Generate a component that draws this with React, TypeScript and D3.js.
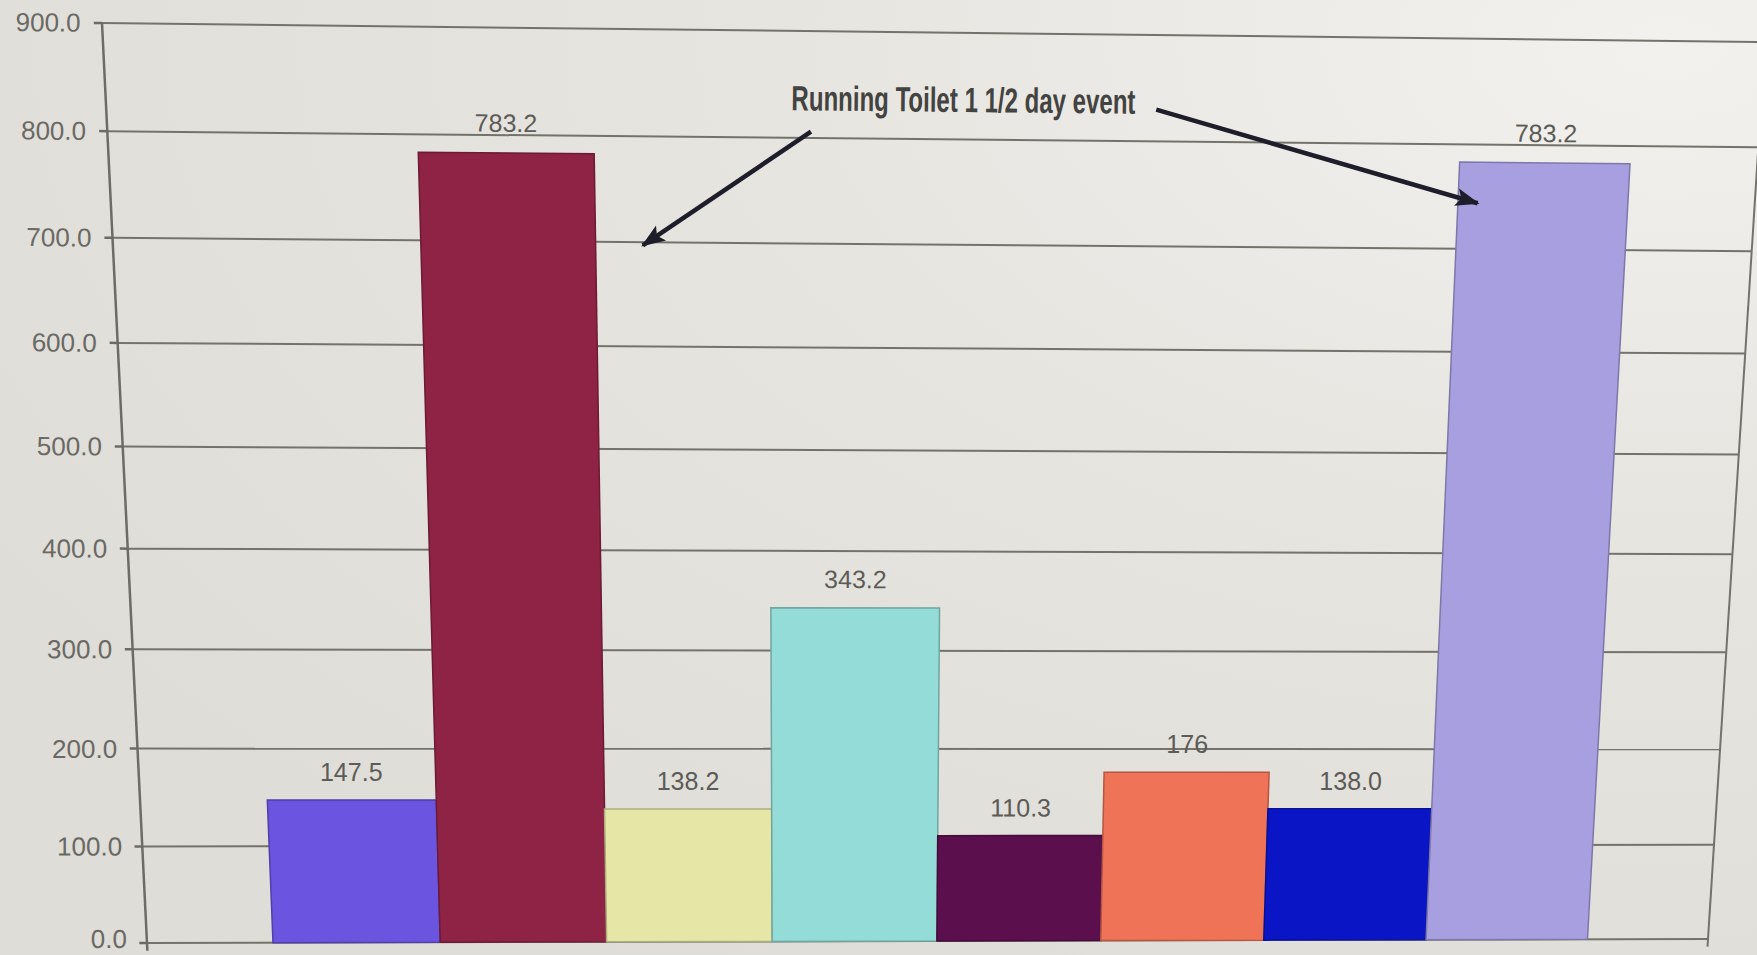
import React from "react";
import * as d3 from "d3";

// Water use per period (gallons/day); one category with eight series
const seriesIds = ["p1", "p2", "p3", "p4", "p5", "p6", "p7", "p8"];
const seriesValues = [147.5, 783.2, 138.2, 343.2, 110.3, 176, 138.0, 783.2];
const seriesLabels = ["147.5", "783.2", "138.2", "343.2", "110.3", "176", "138.0", "783.2"];
const seriesColors = [
  "#6b54e0",
  "#8f2346",
  "#e6e6a6",
  "#93dcd7",
  "#5b0f4d",
  "#ef7357",
  "#0a16c6",
  "#a89fe0",
];
const yTicks = [0, 100, 200, 300, 400, 500, 600, 700, 800, 900];
const annotationText = "Running Toilet 1 1/2 day event";

const W = 1757;
const H = 955;

type Pt = [number, number];

// Plot-area corners on the page: bottom-left, bottom-right, top-right, top-left
const plotCorners: Pt[] = [
  [147, 943],
  [1708, 939],
  [1765, 42],
  [102, 23],
];

// Projective map from the unit square (u across, v up) onto a quadrilateral
function squareToQuad(q: Pt[]) {
  const [[x0, y0], [x1, y1], [x2, y2], [x3, y3]] = q;
  const dx1 = x1 - x2, dx2 = x3 - x2, dx3 = x0 - x1 + x2 - x3;
  const dy1 = y1 - y2, dy2 = y3 - y2, dy3 = y0 - y1 + y2 - y3;
  const det = dx1 * dy2 - dx2 * dy1;
  const g = (dx3 * dy2 - dx2 * dy3) / det;
  const h = (dx1 * dy3 - dx3 * dy1) / det;
  const a = x1 - x0 + g * x1, b = x3 - x0 + h * x3, c = x0;
  const d = y1 - y0 + g * y1, e = y3 - y0 + h * y3, f = y0;
  return (u: number, v: number): Pt => {
    const w = g * u + h * v + 1;
    return [(a * u + b * v + c) / w, (d * u + e * v + f) / w];
  };
}

const project = squareToQuad(plotCorners);

const x = d3
  .scaleBand<string>()
  .domain(seriesIds)
  .range([0, 1])
  .paddingInner(0)
  .paddingOuter(0.75);
const y = d3.scaleLinear().domain([0, 900]).range([0, 1]);
const fmt = d3.format(".1f");
const line = d3.line<Pt>();

function angleAt(u: number, v: number) {
  const [ax, ay] = project(u - 0.01, v);
  const [bx, by] = project(u + 0.01, v);
  return (Math.atan2(by - ay, bx - ax) * 180) / Math.PI;
}

// Annotation arrows in chart space: [u, value]
const arrowLeft: [number, number][] = [
  [0.42, 806],
  [0.318, 697],
];
const arrowRight: [number, number][] = [
  [0.629, 830],
  [0.828, 744],
];
const annotationAnchor: [number, number] = [0.512, 826];

export default function App() {
  const bw = x.bandwidth();
  const gridColor = "#74736b";
  const toPx = (p: [number, number]) => project(p[0], y(p[1]));
  const [tx, ty] = toPx(annotationAnchor);

  return (
    <svg
      width={W}
      height={H}
      viewBox={`0 0 ${W} ${H}`}
      style={{ position: "absolute", left: 0, top: 0, display: "block" }}
    >
      <defs>
        <radialGradient id="paper" cx="0.95" cy="0.05" r="1.1">
          <stop offset="0" stopColor="#f2f1ee" />
          <stop offset="0.45" stopColor="#e7e5e0" />
          <stop offset="1" stopColor="#dfddd7" />
        </radialGradient>
        <marker
          id="head"
          markerUnits="userSpaceOnUse"
          markerWidth={26}
          markerHeight={22}
          refX={22}
          refY={11}
          orient="auto"
        >
          <path d="M0,2 L24,11 L0,20 L5,11 Z" fill="#1e1e2a" />
        </marker>
      </defs>
      <rect x={0} y={0} width={W} height={H} fill="url(#paper)" />

      {/* horizontal gridlines */}
      {yTicks.map((t) => {
        const [x1, y1] = project(0, y(t));
        const [x2, y2] = project(1, y(t));
        return (
          <line key={`g${t}`} x1={x1} y1={y1} x2={x2} y2={y2} stroke={gridColor} strokeWidth={2} />
        );
      })}

      {/* plot border on the right, value axis on the left */}
      {(() => {
        const [ax, ay] = project(1, -0.009);
        const [bx, by] = project(1, 1);
        return <line x1={ax} y1={ay} x2={bx} y2={by} stroke={gridColor} strokeWidth={2} />;
      })()}
      {(() => {
        const [ax, ay] = project(0, -0.009);
        const [bx, by] = project(0, 1);
        return <line x1={ax} y1={ay} x2={bx} y2={by} stroke="#6c6b66" strokeWidth={2.5} />;
      })()}
      {yTicks.map((t) => {
        const [x1, y1] = project(-0.0048, y(t));
        const [x2, y2] = project(0, y(t));
        return <line key={`t${t}`} x1={x1} y1={y1} x2={x2} y2={y2} stroke="#6c6b66" strokeWidth={2.5} />;
      })}
      {yTicks.map((t) => {
        const [lx, ly] = project(-0.0125, y(t));
        // keep the lowest label inside the page
        const base = Math.min(ly + 9, H - 7);
        return (
          <text
            key={`l${t}`}
            x={lx}
            y={base}
            textAnchor="end"
            fontFamily="'Liberation Sans', Arial, sans-serif"
            fontSize={26}
            fill="#6a6964"
            transform={`rotate(${angleAt(-0.0125, y(t))},${lx},${ly})`}
          >
            {fmt(t)}
          </text>
        );
      })}

      {/* bars */}
      {seriesIds.map((id, i) => {
        const u0 = x(id) as number;
        const u1 = u0 + bw;
        const v = y(seriesValues[i]);
        const pts: Pt[] = [project(u0, 0), project(u1, 0), project(u1, v), project(u0, v)];
        const c = d3.color(seriesColors[i])!.darker(0.8).formatHex();
        return (
          <path
            key={id}
            d={line(pts) + "Z"}
            fill={seriesColors[i]}
            stroke={c}
            strokeWidth={1.5}
            strokeLinejoin="miter"
          />
        );
      })}

      {/* value labels */}
      {seriesIds.map((id, i) => {
        const uc = (x(id) as number) + bw / 2;
        const v = y(seriesValues[i]) + 0.022;
        const [lx, ly] = project(uc, v);
        return (
          <text
            key={`v${id}`}
            x={lx}
            y={ly}
            textAnchor="middle"
            fontFamily="'Liberation Sans', Arial, sans-serif"
            fontSize={25}
            fill="#5c5b57"
            transform={`rotate(${angleAt(uc, v)},${lx},${ly})`}
          >
            {seriesLabels[i]}
          </text>
        );
      })}

      {/* annotation */}
      <text
        x={tx}
        y={ty}
        textAnchor="middle"
        fontFamily="'Liberation Sans', Arial, sans-serif"
        fontWeight="bold"
        fontSize={35}
        textLength={344}
        lengthAdjust="spacingAndGlyphs"
        fill="#434341"
        transform={`rotate(${angleAt(annotationAnchor[0], y(annotationAnchor[1]))},${tx},${ty})`}
      >
        {annotationText}
      </text>
      {[arrowLeft, arrowRight].map((arr, k) => {
        const [a, b] = arr.map(toPx);
        return (
          <line
            key={`a${k}`}
            x1={a[0]}
            y1={a[1]}
            x2={b[0]}
            y2={b[1]}
            stroke="#1e1e2a"
            strokeWidth={4.5}
            markerEnd="url(#head)"
          />
        );
      })}
    </svg>
  );
}
